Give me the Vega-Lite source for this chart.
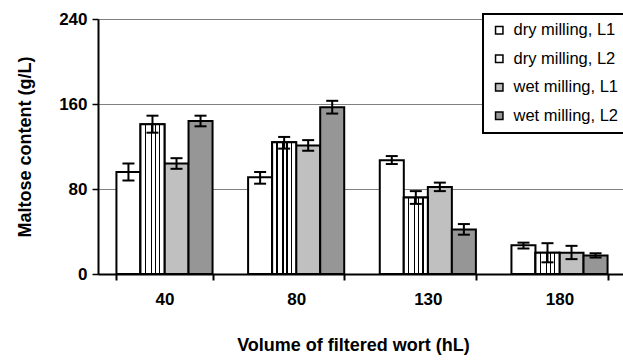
{
  "$schema": "https://vega.github.io/schema/vega-lite/v6.json",
  "width": 528,
  "height": 255,
  "autosize": {"type": "none"},
  "padding": {"left": 98, "top": 19, "right": 0, "bottom": 86},
  "background": "white",
  "config": {
    "view": {"stroke": null},
    "font": "Liberation Sans",
    "legend": {"labelFont": "Liberation Sans", "labelFontSize": 16.5, "labelColor": "black", "labelLimit": 300}
  },
  "data": {
    "values": [
      {"vol": "40", "series": "dry milling, L1", "mean": 96, "lo": 88, "hi": 104},
      {"vol": "40", "series": "dry milling, L2", "mean": 141, "lo": 133, "hi": 149},
      {"vol": "40", "series": "wet milling, L1", "mean": 104, "lo": 99, "hi": 109},
      {"vol": "40", "series": "wet milling, L2", "mean": 144, "lo": 139, "hi": 149},
      {"vol": "80", "series": "dry milling, L1", "mean": 91, "lo": 85, "hi": 96},
      {"vol": "80", "series": "dry milling, L2", "mean": 124, "lo": 118, "hi": 129},
      {"vol": "80", "series": "wet milling, L1", "mean": 121, "lo": 116, "hi": 126},
      {"vol": "80", "series": "wet milling, L2", "mean": 157, "lo": 151, "hi": 163},
      {"vol": "130", "series": "dry milling, L1", "mean": 107, "lo": 103.5, "hi": 111},
      {"vol": "130", "series": "dry milling, L2", "mean": 72, "lo": 66, "hi": 78},
      {"vol": "130", "series": "wet milling, L1", "mean": 82, "lo": 78, "hi": 86},
      {"vol": "130", "series": "wet milling, L2", "mean": 42, "lo": 37, "hi": 47},
      {"vol": "180", "series": "dry milling, L1", "mean": 27, "lo": 24, "hi": 29.5},
      {"vol": "180", "series": "dry milling, L2", "mean": 20, "lo": 11, "hi": 29},
      {"vol": "180", "series": "wet milling, L1", "mean": 20, "lo": 14, "hi": 26.5},
      {"vol": "180", "series": "wet milling, L2", "mean": 17.5, "lo": 15.5, "hi": 19.5}
    ]
  },
  "encoding": {
    "x": {
      "field": "vol", "type": "nominal", "sort": ["40", "80", "130", "180"],
      "scale": {"paddingInner": 0.27, "paddingOuter": 0.14},
      "axis": {
        "title": "Volume of filtered wort (hL)",
        "titleX": 255,
        "labelAngle": 0,
        "labelFont": "Liberation Sans", "labelFontSize": 17, "labelFontWeight": "bold", "labelColor": "black",
        "labelPadding": 11,
        "titleFont": "Liberation Sans", "titleFontSize": 18, "titleFontWeight": "bold", "titleColor": "black",
        "titlePadding": 29,
        "domainColor": "black", "domainWidth": 2,
        "tickColor": "black", "tickWidth": 2, "tickSize": 6,
        "tickBand": "extent",
        "grid": false
      }
    },
    "xOffset": {"field": "series", "type": "nominal", "sort": ["dry milling, L1", "dry milling, L2", "wet milling, L1", "wet milling, L2"], "scale": {"paddingInner": 0, "paddingOuter": 0}}
  },
  "layer": [
    {
      "mark": {"type": "bar", "stroke": "black", "strokeWidth": 2, "strokeJoin": "miter"},
      "encoding": {
        "y": {
          "field": "mean", "type": "quantitative",
          "scale": {"domain": [0, 240], "nice": false},
          "axis": {
            "title": "Maltose content (g/L)",
            "values": [0, 80, 160, 240],
            "labelFont": "Liberation Sans", "labelFontSize": 17, "labelFontWeight": "bold", "labelColor": "black",
            "labelPadding": 5,
            "titleFont": "Liberation Sans", "titleFontSize": 18, "titleFontWeight": "bold", "titleColor": "black",
            "titlePadding": 24,
            "domainColor": "black", "domainWidth": 2,
            "tickColor": "black", "tickWidth": 1.5, "tickSize": 6,
            "grid": true, "gridColor": "#808080", "gridWidth": 1
          }
        },
        "fill": {
          "field": "series", "type": "nominal",
          "sort": ["dry milling, L1", "dry milling, L2", "wet milling, L1", "wet milling, L2"],
          "scale": {"range": ["white", "white", "#c0c0c0", "#969696"]},
          "legend": {
            "title": null,
            "orient": "none", "legendX": 385, "legendY": -5,
            "fillColor": "white", "strokeColor": "black",
            "padding": 8,
            "rowPadding": 11.5,
            "symbolType": "square", "symbolSize": 55,
            "symbolStrokeColor": "black", "symbolStrokeWidth": 1.5,
            "symbolOpacity": 1,
            "labelFont": "Liberation Sans", "labelFontSize": 16.5, "labelColor": "black",
            "labelOffset": 6,
            "labelLimit": 300,
            "encode": {
              "legend": {"update": {"strokeWidth": {"value": 2}}},
              "symbols": {
                "update": {
                  "fill": [
                    {"test": "datum.value === 'dry milling, L2'", "value": {"gradient": "linear", "x1": 0, "x2": 1, "y1": 0, "y2": 0, "stops": [
                      {"offset": 0, "color": "white"}, {"offset": 0.28, "color": "white"}, {"offset": 0.28, "color": "black"}, {"offset": 0.42, "color": "black"}, {"offset": 0.42, "color": "white"},
                      {"offset": 0.58, "color": "white"}, {"offset": 0.58, "color": "black"}, {"offset": 0.72, "color": "black"}, {"offset": 0.72, "color": "white"}, {"offset": 1, "color": "white"}
                    ]}},
                    {"scale": "fill", "field": "value"}
                  ],
                  "stroke": {"value": "black"},
                  "strokeWidth": {"value": 1.5}
                }
              }
            }
          }
        }
      }
    },
    {
      "transform": [{"filter": "datum.series === 'dry milling, L2'"}],
      "mark": {
        "type": "bar", "stroke": "black", "strokeWidth": 2,
        "fill": {"gradient": "linear", "x1": 0, "x2": 1, "y1": 0, "y2": 0, "stops": [
          {"offset": 0, "color": "white"},
          {"offset": 0.17, "color": "white"}, {"offset": 0.17, "color": "black"}, {"offset": 0.23, "color": "black"}, {"offset": 0.23, "color": "white"},
          {"offset": 0.42, "color": "white"}, {"offset": 0.42, "color": "black"}, {"offset": 0.48, "color": "black"}, {"offset": 0.48, "color": "white"},
          {"offset": 0.59, "color": "white"}, {"offset": 0.59, "color": "black"}, {"offset": 0.65, "color": "black"}, {"offset": 0.65, "color": "white"},
          {"offset": 0.77, "color": "white"}, {"offset": 0.77, "color": "black"}, {"offset": 0.83, "color": "black"}, {"offset": 0.83, "color": "white"},
          {"offset": 1, "color": "white"}
        ]}
      },
      "encoding": {
        "y": {"field": "mean", "type": "quantitative"}
      }
    },
    {
      "mark": {"type": "rule", "color": "black", "strokeWidth": 2},
      "encoding": {
        "y": {"field": "lo", "type": "quantitative"},
        "y2": {"field": "hi"}
      }
    },
    {
      "mark": {"type": "tick", "color": "black", "orient": "horizontal", "size": 12, "thickness": 2, "opacity": 1},
      "encoding": {
        "y": {"field": "lo", "type": "quantitative"}
      }
    },
    {
      "mark": {"type": "tick", "color": "black", "orient": "horizontal", "size": 12, "thickness": 2, "opacity": 1},
      "encoding": {
        "y": {"field": "hi", "type": "quantitative"}
      }
    }
  ]
}
